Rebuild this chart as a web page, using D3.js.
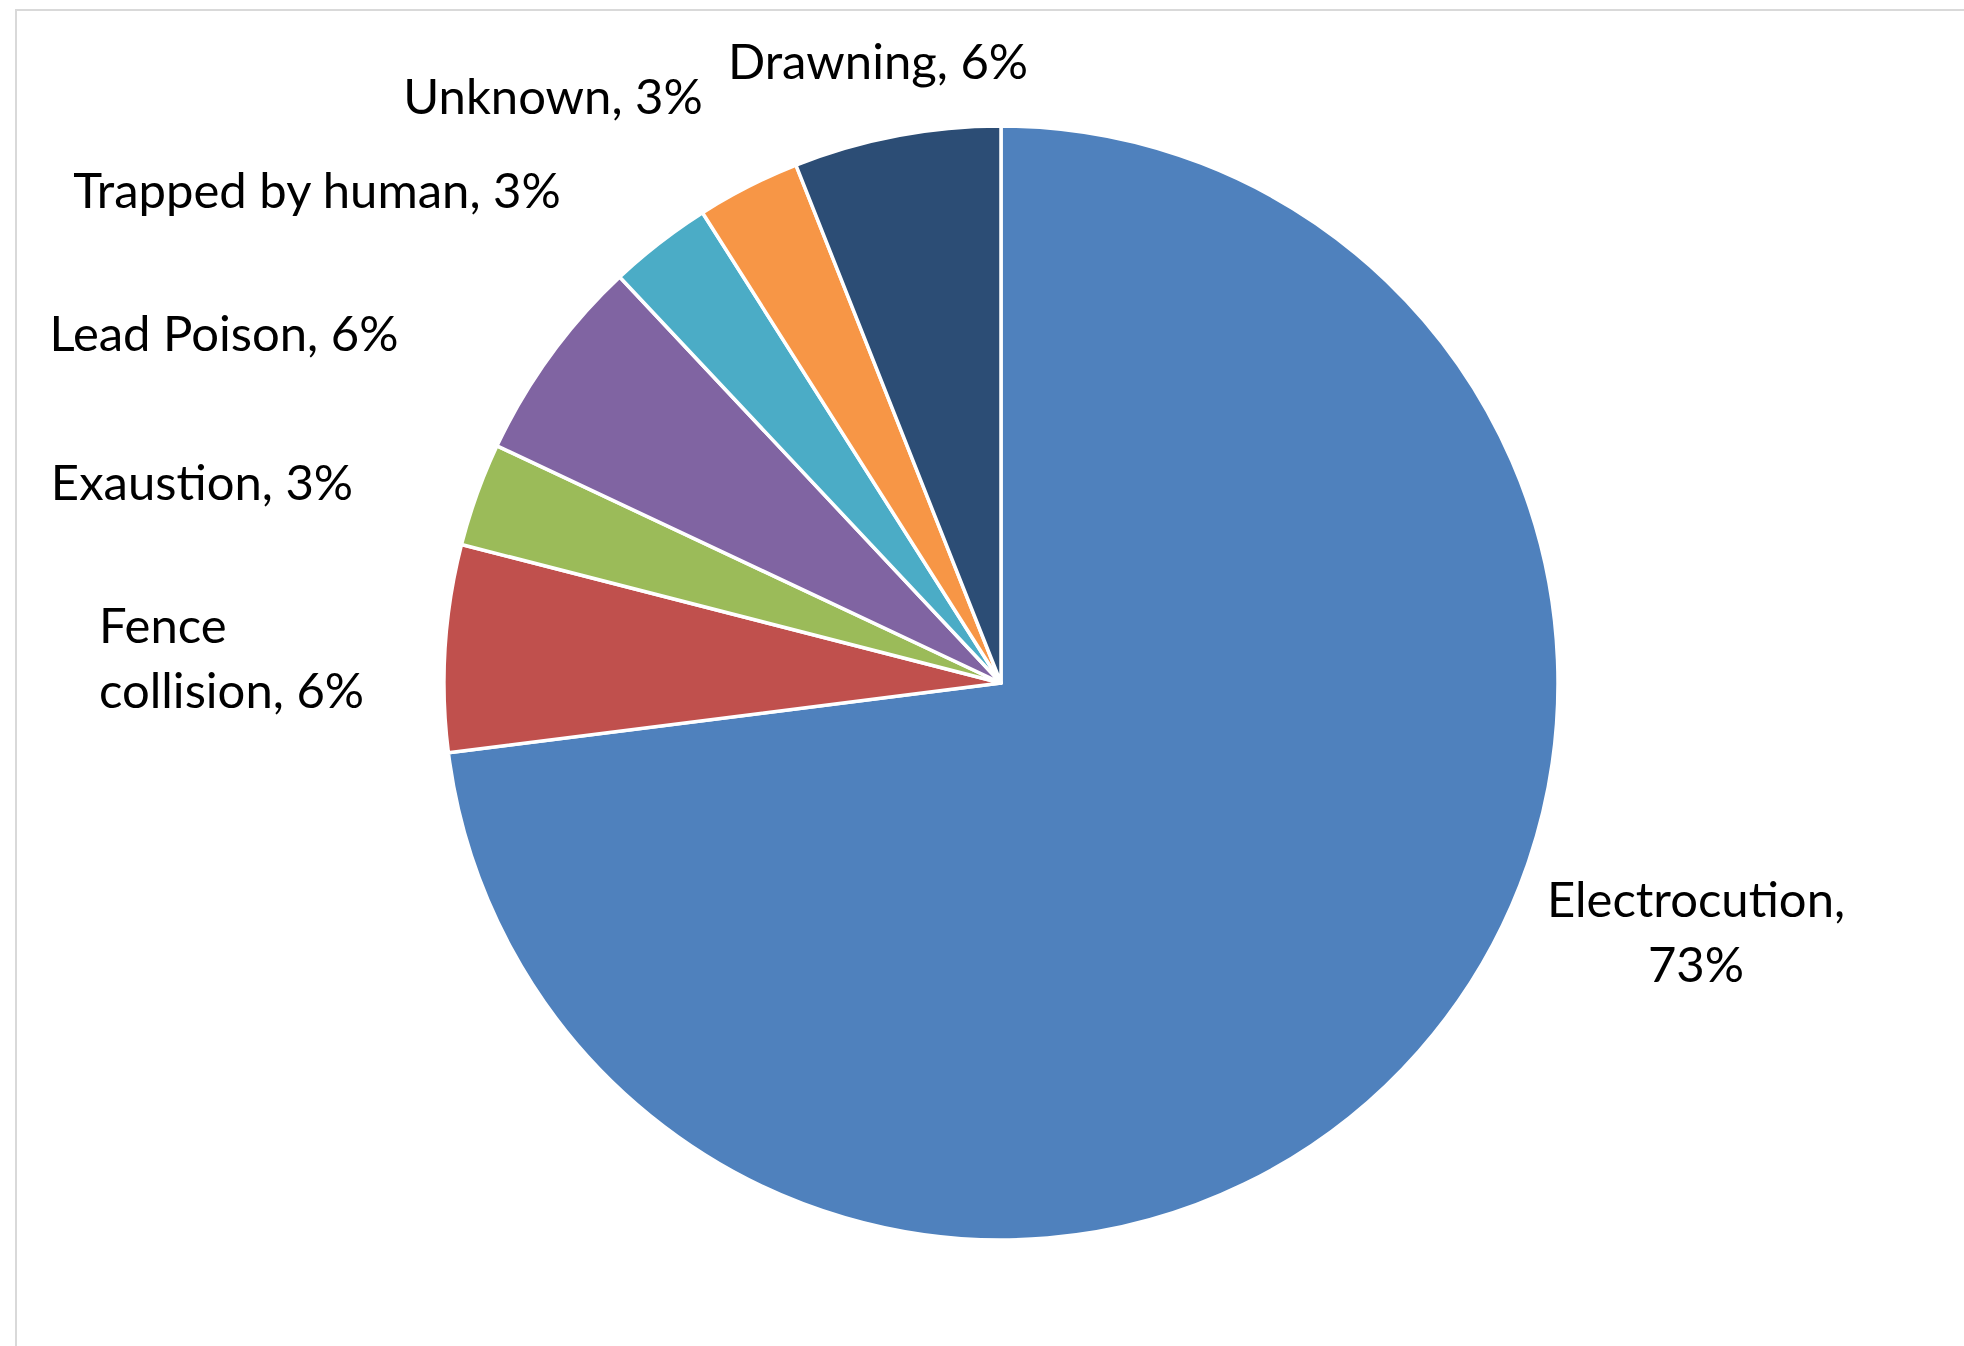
<!DOCTYPE html>
<html>
<head>
<meta charset="utf-8">
<script src="https://cdn.jsdelivr.net/npm/d3@7"></script>
<style>
  html, body { margin: 0; padding: 0; background: #ffffff; }
  svg { display: block; }
</style>
</head>
<body>
<svg id="chart" width="1964" height="1346"></svg>
<script>
// ---- data ----
const categories = ["Electrocution", "Fence collision", "Exaustion", "Lead Poison", "Trapped by human", "Unknown", "Drawning"];
const values = [73, 6, 3, 6, 3, 3, 6];
const colors = ["#4F81BD", "#C0504D", "#9BBB59", "#8064A2", "#4BACC6", "#F79646", "#2C4D75"];
// label text lines (as displayed)
const labelLines = [
  ["Electrocution,", "73%"],
  ["Fence", "collision, 6%"],
  ["Exaustion, 3%"],
  ["Lead Poison, 6%"],
  ["Trapped by human, 3%"],
  ["Unknown, 3%"],
  ["Drawning, 6%"]
];

// ---- layout ----
const W = 1964, H = 1346;
const cx = 1001, cy = 683, R = 557;
// label anchor positions (x, first baseline y, anchor)
const labelPos = [
  {x: 1696, y: 917, anchor: "middle"},
  {x: 99,   y: 643, anchor: "start"},
  {x: 202,  y: 500, anchor: "middle"},
  {x: 224,  y: 351, anchor: "middle"},
  {x: 317,  y: 208, anchor: "middle"},
  {x: 553,  y: 114, anchor: "middle"},
  {x: 878,  y: 79,  anchor: "middle"}
];
const lineH = 65;
const fontSize = 49;

const svg = d3.select("#chart");
svg.append("rect").attr("width", W).attr("height", H).attr("fill", "#ffffff");

// chart area border (top and left visible)
svg.append("path")
  .attr("d", `M16,${H + 5} L16,10 L${W + 5},10`)
  .attr("fill", "none")
  .attr("stroke", "#d9d9d9")
  .attr("stroke-width", 2);

const data = categories.map((c, i) => ({name: c, value: values[i], color: colors[i], lines: labelLines[i], pos: labelPos[i]}));

const pie = d3.pie().sort(null).value(d => d.value).startAngle(0).endAngle(2 * Math.PI);
const arc = d3.arc().innerRadius(0).outerRadius(R);

const g = svg.append("g").attr("transform", `translate(${cx},${cy})`);
g.selectAll("path.slice")
  .data(pie(data))
  .join("path")
  .attr("class", "slice")
  .attr("d", arc)
  .attr("fill", d => d.data.color)
  .attr("stroke", "#ffffff")
  .attr("stroke-width", 3.5)
  .attr("stroke-linejoin", "round");

const labels = svg.append("g")
  .attr("font-family", "Lato, 'Open Sans', sans-serif")
  .attr("font-size", fontSize)
  .attr("fill", "#000000");

data.forEach(d => {
  const t = labels.append("text")
    .attr("text-anchor", d.pos.anchor)
    .attr("x", d.pos.x)
    .attr("y", d.pos.y);
  d.lines.forEach((line, i) => {
    t.append("tspan")
      .attr("x", d.pos.x)
      .attr("dy", i === 0 ? 0 : lineH)
      .text(line);
  });
});
</script>
</body>
</html>
